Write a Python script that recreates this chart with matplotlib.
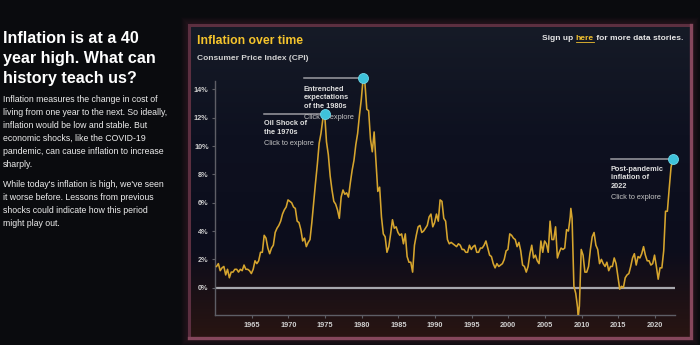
import numpy as np
import matplotlib
matplotlib.use("Agg")
import matplotlib.pyplot as plt
from matplotlib.colors import LinearSegmentedColormap
from matplotlib.patches import Rectangle

# ---------------- data ----------------
first_year = 1960
quarter_months = [3, 6, 9, 12]
# CPI year-over-year inflation (%), sampled in Mar / Jun / Sep / Dec, 1960 .. Jun 2022
cpi = [
    1.5, 1.7, 1.2, 1.4,   # 1960
    1.5, 0.9, 1.3, 0.7,   # 1961
    1.1, 1.1, 1.3, 1.3,   # 1962
    1.1, 1.3, 1.2, 1.6,   # 1963
    1.3, 1.3, 1.2, 1.0,   # 1964
    1.3, 1.9, 1.7, 1.9,   # 1965
    2.5, 2.5, 3.7, 3.5,   # 1966
    2.8, 2.4, 2.8, 3.0,   # 1967
    3.9, 4.2, 4.4, 4.7,   # 1968
    5.2, 5.5, 5.7, 6.2,   # 1969
    6.1, 6.0, 5.7, 5.6,   # 1970
    4.7, 4.6, 4.1, 3.3,   # 1971
    3.5, 2.9, 3.2, 3.4,   # 1972
    4.6, 6.0, 7.4, 8.7,   # 1973
    10.2, 10.9, 11.9, 12.3,  # 1974
    10.3, 9.4, 7.9, 6.9,  # 1975
    6.1, 5.9, 5.5, 4.9,   # 1976
    6.4, 6.9, 6.6, 6.7,   # 1977
    6.4, 7.4, 8.3, 9.0,   # 1978
    10.1, 10.9, 12.2, 13.3,  # 1979
    14.8, 14.4, 12.6, 12.5,  # 1980
    10.5, 9.6, 11.0, 8.9,  # 1981
    6.8, 7.1, 5.0, 3.8,   # 1982
    3.6, 2.5, 2.9, 3.8,   # 1983
    4.8, 4.2, 4.3, 3.9,   # 1984
    3.7, 3.8, 3.1, 3.8,   # 1985
    2.2, 1.8, 1.8, 1.1,   # 1986
    3.0, 3.7, 4.3, 4.4,   # 1987
    3.9, 4.0, 4.2, 4.4,   # 1988
    5.0, 5.2, 4.3, 4.6,   # 1989
    5.2, 4.7, 6.2, 6.1,   # 1990
    4.9, 4.7, 3.4, 3.1,   # 1991
    3.2, 3.1, 3.0, 2.9,   # 1992
    3.1, 3.0, 2.7, 2.7,   # 1993
    2.5, 2.5, 3.0, 2.7,   # 1994
    2.9, 3.0, 2.5, 2.5,   # 1995
    2.8, 2.8, 3.0, 3.3,   # 1996
    2.8, 2.3, 2.2, 1.7,   # 1997
    1.4, 1.7, 1.5, 1.6,   # 1998
    1.7, 2.0, 2.6, 2.7,   # 1999
    3.8, 3.7, 3.5, 3.4,   # 2000
    2.9, 3.2, 2.6, 1.6,   # 2001
    1.5, 1.1, 1.5, 2.4,   # 2002
    3.0, 2.1, 2.3, 1.9,   # 2003
    1.7, 3.3, 2.5, 3.3,   # 2004
    3.1, 2.5, 4.7, 3.4,   # 2005
    3.4, 4.3, 2.1, 2.5,   # 2006
    2.8, 2.7, 2.8, 4.1,   # 2007
    4.0, 5.0, 4.9, 0.1,   # 2008
    -0.4, -1.4, -1.3, 2.7,  # 2009
    2.3, 1.1, 1.1, 1.5,   # 2010
    2.7, 3.6, 3.9, 3.0,   # 2011
    2.7, 1.7, 2.0, 1.7,   # 2012
    1.5, 1.8, 1.2, 1.5,   # 2013
    1.5, 2.1, 1.7, 0.8,   # 2014
    -0.1, 0.1, 0.0, 0.7,  # 2015
    0.9, 1.0, 1.5, 2.1,   # 2016
    2.4, 1.6, 2.2, 2.1,   # 2017
    2.4, 2.9, 2.3, 1.9,   # 2018
    1.9, 1.6, 1.7, 2.3,   # 2019
    1.5, 0.6, 1.4, 1.4,   # 2020
    2.6, 5.4, 5.4, 7.0,   # 2021
    8.5, 9.1,             # 2022
]
# intra-quarter extremes
extra_years = [2008, 2009]
extra_months = [7, 7]
extra_vals = [5.6, -2.1]

y_ticks = [0, 2, 4, 6, 8, 10, 12, 14]
x_ticks = [1965, 1970, 1975, 1980, 1985, 1990, 1995, 2000, 2005, 2010, 2015, 2020]

# annotations
ann_titles = [["Oil Shock of", "the 1970s"],
              ["Entrenched", "expectations", "of the 1980s"],
              ["Post-pandemic", "inflation of", "2022"]]
ann_years = [1974, 1980, 2022]
ann_months = [12, 3, 6]
ann_vals = [12.3, 14.8, 9.1]
ann_start = [1966.7, 1972.1, 2014.0]

# ---------------- build series ----------------
t = []
for i in range(len(cpi)):
    yr = first_year + i // 4
    mo = quarter_months[i % 4]
    t.append(yr + (mo - 0.5) / 12)
t += [y + (m - 0.5) / 12 for y, m in zip(extra_years, extra_months)]
v = cpi + extra_vals
order = np.argsort(t)
t = np.array(t)[order]
v = np.array(v)[order]

W, H = 700, 345
fig = plt.figure(figsize=(W / 100, H / 100), dpi=100, facecolor="#0a0b0e")
FONT = "Liberation Sans"

def fx(x):
    return x / W

def fy(y):
    return 1 - y / H

# ---------------- background panel ----------------
bg = fig.add_axes([0, 0, 1, 1], zorder=-10)
bg.set_xlim(0, W)
bg.set_ylim(H, 0)
bg.axis("off")
px0, py0, px1, py1 = 189, 25, 691, 338
# soft glow outside the panel
for k in range(7, 0, -1):
    bg.add_patch(Rectangle((px0 - k, py0 - k), (px1 - px0) + 2 * k, (py1 - py0) + 2 * k,
                           facecolor="none", edgecolor="#4a2030", lw=1.5,
                           alpha=0.04 + 0.03 * (7 - k)))
cmap = LinearSegmentedColormap.from_list(
    "panel", [(0, "#161b27"), (0.35, "#0e1120"), (0.72, "#0c0d1c"), (0.85, "#1a1016"), (1.0, "#291512")])
grad = np.linspace(0, 1, 256).reshape(-1, 1)
bg.imshow(grad, cmap=cmap, aspect="auto", extent=(px0, px1, py1, py0), zorder=1)
# border: dimmer top/left, brighter right/bottom
bg.plot([px0, px0, px1], [py1, py0, py0], color="#5c2f40", lw=2.2, zorder=2,
        solid_joinstyle="miter")
bg.plot([px1, px1, px0], [py0, py1, py1], color="#85475c", lw=2.4, zorder=2,
        solid_joinstyle="miter")

# ---------------- left text ----------------
title_lines = ["Inflation is at a 40", "year high. What can", "history teach us?"]
for i, s in enumerate(title_lines):
    fig.text(fx(3), fy(42.7 + i * 20.4), s, color="white", fontsize=11.6,
             fontweight="bold", family=FONT, va="baseline", ha="left")
body1 = ["Inflation measures the change in cost of",
         "living from one year to the next. So ideally,",
         "inflation would be low and stable. But",
         "economic shocks, like the COVID-19",
         "pandemic, can cause inflation to increase",
         "sharply."]
body2 = ["While today's inflation is high, we've seen",
         "it worse before. Lessons from previous",
         "shocks could indicate how this period",
         "might play out."]
for i, s in enumerate(body1):
    fig.text(fx(3), fy(99.5 + i * 12.9), s, color="#ededed", fontsize=6.3,
             family=FONT, va="center", ha="left")
for i, s in enumerate(body2):
    fig.text(fx(3), fy(184.3 + i * 13.0), s, color="#ededed", fontsize=6.3,
             family=FONT, va="center", ha="left")

# ---------------- panel headers ----------------
fig.text(fx(197), fy(41), "Inflation over time", color="#f5c42c", fontsize=8.8,
         fontweight="bold", family=FONT, va="center", ha="left")
fig.text(fx(197), fy(59), "Consumer Price Index (CPI)", color="#d2d2d2", fontsize=6.0,
         fontweight="bold", family=FONT, va="center", ha="left")

# "Sign up here for more data stories." right aligned at x=683
parts = ["Sign up ", "here", " for more data stories."]
cols = ["#e6e6e6", "#f0c030", "#e6e6e6"]
txts = [fig.text(0, fy(38.5), p, color=c, fontsize=6.0, fontweight="bold", family=FONT,
                 va="center", ha="left") for p, c in zip(parts, cols)]
fig.canvas.draw()
r = fig.canvas.get_renderer()
widths = [tx.get_window_extent(r).width for tx in txts]
xcur = 683 - sum(widths)
for tx, w in zip(txts, widths):
    tx.set_x(fx(xcur))
    xcur += w
hx0 = fx(683 - widths[2] - widths[1])
hx1 = fx(683 - widths[2])
fig.add_artist(plt.Line2D([hx0, hx1], [fy(41.6), fy(41.6)], color="#f0c030", lw=0.6,
                          transform=fig.transFigure))

# ---------------- chart ----------------
ax = fig.add_axes([fx(215), fy(315.3), fx(675) - fx(215), fy(81) - fy(315.3)])
ax.set_facecolor("none")
ax.set_xlim(1960, 2022.75)
ax.set_ylim(-1.95, 14.6)
for s in ["top", "right"]:
    ax.spines[s].set_visible(False)
for s in ["left", "bottom"]:
    ax.spines[s].set_color("#5e5e66")
    ax.spines[s].set_linewidth(1.0)
ax.axhline(0, color="#a8a8ae", lw=1.6, zorder=2)
ax.plot(t, v, color="#d6a52e", lw=1.15, zorder=3)

ax.set_yticks(y_ticks)
ax.set_yticklabels([f"{y}%" for y in y_ticks])
ax.set_xticks(x_ticks)
ax.set_xticklabels([str(x) for x in x_ticks])
ax.tick_params(axis="both", colors="#5e5e66", length=2.5, width=0.8, pad=2)
for lab in ax.get_yticklabels() + ax.get_xticklabels():
    lab.set_color("#cfcfcf")
    lab.set_fontsize(5.3)
    lab.set_fontweight("bold")
    lab.set_family(FONT)

PT = 0.72  # points per pixel
offs = [[9.7, 19.0], [11.0, 19.6, 28.6], [10.7, 19.0, 28.0]]
click_offs = [29.7, 39.6, 39.0]
for lines, yr, mo, val, x0, off, coff in zip(ann_titles, ann_years, ann_months, ann_vals,
                                               ann_start, offs, click_offs):
    xd = yr + (mo - 0.5) / 12
    ax.plot([x0, xd], [val, val], color="#9c9ca2", lw=1.1, zorder=4, clip_on=False)
    ax.plot([xd], [val], "o", ms=7.2, mfc="#3ec2da", mec="#6fd6e8", mew=0.6, zorder=6,
            clip_on=False)
    for s, o in zip(lines, off):
        ax.annotate(s, (x0, val), xytext=(0, -o * PT), textcoords="offset points",
                    color="#dedede", fontsize=5.3, fontweight="bold", family=FONT,
                    va="center", ha="left", zorder=5, annotation_clip=False)
    ax.annotate("Click to explore", (x0, val), xytext=(0, -coff * PT),
                textcoords="offset points", color="#c4c4c4", fontsize=5.3, family=FONT,
                va="center", ha="left", zorder=5, annotation_clip=False)

fig.savefig("out.png", dpi=100, facecolor=fig.get_facecolor())
